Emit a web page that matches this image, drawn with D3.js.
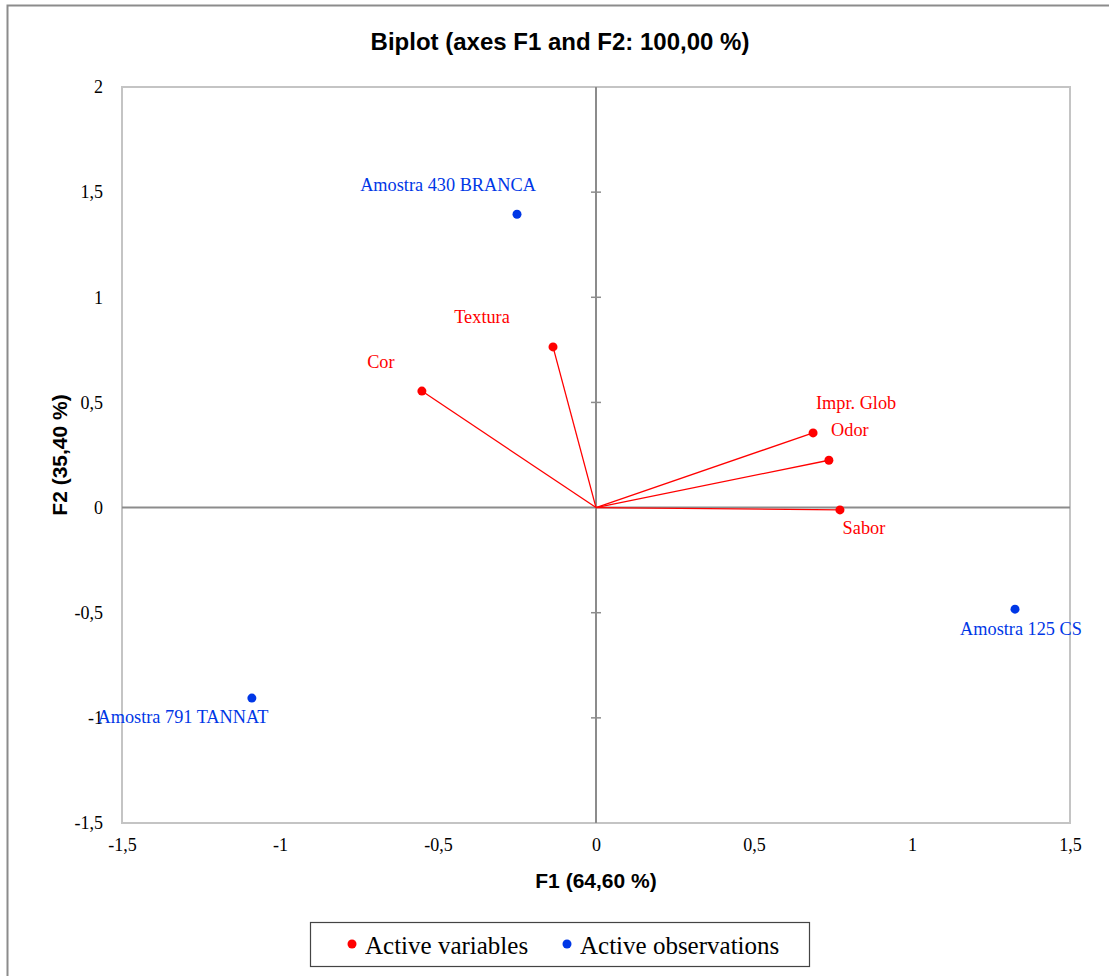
<!DOCTYPE html>
<html>
<head>
<meta charset="utf-8">
<script src="https://cdn.jsdelivr.net/npm/d3@7"></script>
<style>
  body { margin: 0; background: #fff; }
  svg { display: block; }
</style>
</head>
<body>
<div id="chart-area"></div>
<script>
// variables (red) and observations (blue)
const varNames = ["Cor", "Textura", "Impr. Glob", "Odor", "Sabor"];
const varF1 = [-0.551, -0.136, 0.687, 0.737, 0.772];
const varF2 = [0.554, 0.764, 0.355, 0.225, -0.011];

const obsNames = ["Amostra 430 BRANCA", "Amostra 125 CS", "Amostra 791 TANNAT"];
const obsF1 = [-0.25, 1.326, -1.089];
const obsF2 = [1.395, -0.483, -0.906];

const xTicks = [-1.5, -1, -0.5, 0, 0.5, 1, 1.5];
const yTicks = [-1.5, -1, -0.5, 0, 0.5, 1, 1.5, 2];

const width = 1109;
const height = 976;
const margin = { top: 87, right: 39, bottom: 153, left: 122 };
const innerW = width - margin.left - margin.right;
const innerH = height - margin.top - margin.bottom;

const red = "#ff0000";
const blue = "#0037e6";
const serif = "'Liberation Serif', 'DejaVu Serif', serif";
const sans = "'Liberation Sans', Arial, sans-serif";

// label offsets (centre of label relative to point)
const labelOffset = {
    "Cor": [-41, -29],
    "Textura": [-71, -30],
    "Impr. Glob": [43, -30],
    "Odor": [21, -30],
    "Sabor": [24, 18],
    "Amostra 430 BRANCA": [-69, -29],
    "Amostra 125 CS": [6, 20],
    "Amostra 791 TANNAT": [-69, 19]
};

const locale = d3.formatLocale({ decimal: ",", thousands: ".", grouping: [3], currency: ["", ""], minus: "-" });
const fmt = locale.format("");

const svg = d3.select("#chart-area")
    .append("svg")
    .attr("width", width)
    .attr("height", height);

// outer frame (runs off the right and bottom edges)
svg.append("rect")
    .attr("x", 7.5).attr("y", 5.5)
    .attr("width", width + 20).attr("height", height + 20)
    .attr("fill", "none")
    .attr("stroke", "#8c8c8c")
    .attr("stroke-width", 2);

svg.append("text")
    .attr("x", 560).attr("y", 50)
    .attr("text-anchor", "middle")
    .attr("font-family", sans)
    .attr("font-weight", "bold")
    .attr("font-size", "24px")
    .text("Biplot (axes F1 and F2: 100,00 %)");

const g = svg.append("g")
    .attr("transform", "translate(" + margin.left + ", " + margin.top + ")");

const x = d3.scaleLinear().domain([-1.5, 1.5]).range([0, innerW]);
const y = d3.scaleLinear().domain([-1.5, 2]).range([innerH, 0]);

// plot frame
g.append("rect")
    .attr("width", innerW).attr("height", innerH)
    .attr("fill", "none")
    .attr("stroke", "#c4c4c4")
    .attr("stroke-width", 2);

// tick labels
const leftAxis = d3.axisLeft(y).tickValues(yTicks).tickFormat(fmt).tickSize(0).tickPadding(19);
g.append("g").attr("class", "left axis").call(leftAxis)
    .call(a => a.select(".domain").remove())
    .selectAll("text")
    .attr("font-family", serif)
    .attr("font-size", "18px")
    .attr("fill", "#000");

const bottomAxis = d3.axisBottom(x).tickValues(xTicks).tickFormat(fmt).tickSize(0).tickPadding(15);
g.append("g").attr("class", "bottom axis")
    .attr("transform", "translate(0, " + innerH + ")")
    .call(bottomAxis)
    .call(a => a.select(".domain").remove())
    .selectAll("text")
    .attr("font-family", serif)
    .attr("font-size", "18px")
    .attr("fill", "#000");

// zero lines
g.append("line")
    .attr("x1", 0).attr("x2", innerW)
    .attr("y1", y(0)).attr("y2", y(0))
    .attr("stroke", "#8c8c8c").attr("stroke-width", 2);
g.append("line")
    .attr("x1", x(0)).attr("x2", x(0))
    .attr("y1", 0).attr("y2", innerH)
    .attr("stroke", "#8c8c8c").attr("stroke-width", 2);
g.selectAll(".ztick")
    .data(yTicks.filter(d => d !== 0 && d !== -1.5 && d !== 2))
    .enter()
    .append("line")
    .attr("class", "ztick")
    .attr("x1", x(0) - 5).attr("x2", x(0) + 5)
    .attr("y1", d => y(d)).attr("y2", d => y(d))
    .attr("stroke", "#8c8c8c").attr("stroke-width", 1.5);

// axis titles
svg.append("text")
    .attr("x", margin.left + x(0)).attr("y", 888)
    .attr("text-anchor", "middle")
    .attr("font-family", sans)
    .attr("font-weight", "bold")
    .attr("font-size", "21px")
    .text("F1 (64,60 %)");

svg.append("text")
    .attr("transform", "translate(67, " + (margin.top + innerH / 2) + ") rotate(-90)")
    .attr("text-anchor", "middle")
    .attr("font-family", sans)
    .attr("font-weight", "bold")
    .attr("font-size", "21px")
    .text("F2 (35,40 %)");

const vars = varNames.map((n, i) => ({ name: n, f1: varF1[i], f2: varF2[i] }));
const obs = obsNames.map((n, i) => ({ name: n, f1: obsF1[i], f2: obsF2[i] }));

// vectors
g.selectAll(".vec").data(vars).enter()
    .append("line")
    .attr("class", "vec")
    .attr("x1", x(0)).attr("y1", y(0))
    .attr("x2", d => x(d.f1)).attr("y2", d => y(d.f2))
    .attr("stroke", red).attr("stroke-width", 1.3);

const drawPoints = (data, color, cls) => {
    g.selectAll("." + cls + "-pt").data(data).enter()
        .append("circle")
        .attr("class", cls + "-pt")
        .attr("cx", d => x(d.f1)).attr("cy", d => y(d.f2))
        .attr("r", 4.5)
        .attr("fill", color);

    g.selectAll("." + cls + "-lbl").data(data).enter()
        .append("text")
        .attr("class", cls + "-lbl")
        .attr("x", d => x(d.f1) + labelOffset[d.name][0])
        .attr("y", d => y(d.f2) + labelOffset[d.name][1])
        .attr("text-anchor", "middle")
        .attr("dominant-baseline", "central")
        .attr("font-family", serif)
        .attr("font-size", "18.3px")
        .attr("fill", color)
        .text(d => d.name);
};
drawPoints(vars, red, "var");
drawPoints(obs, blue, "obs");

// legend
const legend = svg.append("g").attr("transform", "translate(310, 922)");
legend.append("rect")
    .attr("x", 0.5).attr("y", 0.5)
    .attr("width", 499).attr("height", 44)
    .attr("fill", "#fff")
    .attr("stroke", "#444").attr("stroke-width", 1.2);
const legendItems = [["Active variables", red, 42], ["Active observations", blue, 257]];
legendItems.forEach(([label, color, lx]) => {
    legend.append("circle").attr("cx", lx).attr("cy", 22).attr("r", 4.5).attr("fill", color);
    legend.append("text")
        .attr("x", lx + 13).attr("y", 23)
        .attr("dominant-baseline", "central")
        .attr("font-family", serif)
        .attr("font-size", "25px")
        .attr("fill", "#000")
        .text(label);
});
</script>
</body>
</html>
